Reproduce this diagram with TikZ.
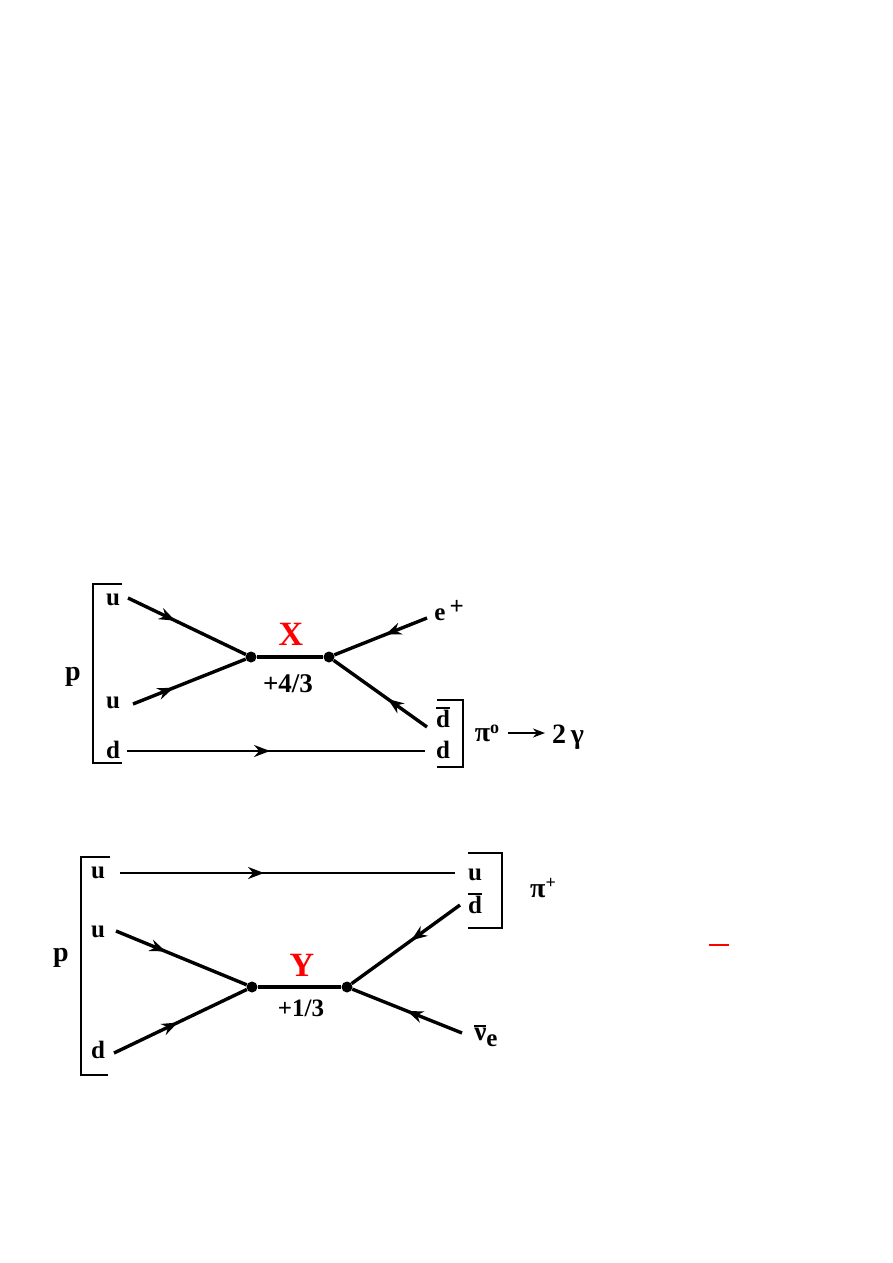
\documentclass[tikz,border=0pt]{standalone}
\usepackage{fontspec}
\setmainfont{Liberation Serif}
\usetikzlibrary{decorations.markings,arrows.meta}
\newcommand\barred[1]{\vbox{\hrule height 2pt\kern1.3pt\hbox{#1}}}
\tikzset{
  lbl/.style={font=\fontsize{25}{27}\selectfont\bfseries, inner sep=0pt},
  big/.style={font=\fontsize{28}{30}\selectfont\bfseries, inner sep=0pt},
  boson/.style={font=\fontsize{34}{36}\selectfont\bfseries, text=red, inner sep=0pt},
  charge/.style={font=\fontsize{27}{29}\selectfont\bfseries, inner sep=0pt},
  fline/.style={line width=3.4pt},
  qline/.style={line width=2.4pt},
  brk/.style={line width=2.8pt},
  vtx/.style={circle, fill, inner sep=0pt, minimum size=11pt},
  midarrow/.style={postaction={decorate}, decoration={markings, mark=at position #1 with {\arrow{Stealth[length=16pt,width=12pt]}}}},
}
\begin{document}
\begin{tikzpicture}[x=1pt,y=-1pt]
\path[use as bounding box, fill=white] (0,0) rectangle (893,1263);

% ---------- top diagram ----------
\draw[brk] (122,584) -- (93,584) -- (93,763) -- (122,763);
\draw[brk] (437,700) -- (463,700) -- (463,767) -- (437,767);

\node[big] (p1) at (73,677) {p};
\node[lbl] (u1) at (113,600) {u};
\node[lbl] (u2) at (113,703) {u};
\node[lbl] (d1) at (113,750) {d};
\node[boson] (X) at (291,634) {X};
\node[charge] (q1) at (288,684) {+4/3};
\node[lbl] (ep) at (449,611) {e\,\raisebox{6pt}{+}};
\node[lbl] (db1) at (443,717) {\barred{d}};
\node[lbl] (d2) at (443,750) {d};
\node[lbl, font=\fontsize{28}{30}\selectfont\bfseries] (pi0) at (487,733) {π\raisebox{8pt}{\fontsize{18}{18}\selectfont o}};
\node[lbl, font=\fontsize{28}{30}\selectfont\bfseries] (gg) at (568,737) {2\,γ};

\node[vtx] (v1) at (251,657) {};
\node[vtx] (v2) at (329,657) {};

\coordinate (a1) at (128,598);
\coordinate (a2) at (133,704);
\coordinate (a3) at (127,751);
\coordinate (a4) at (425,751);
\coordinate (a5) at (427,618);
\coordinate (a6) at (427,727);
\coordinate (pa) at (508,733);
\coordinate (pb) at (545,733);

\draw[fline, midarrow=0.40] (a1) -- (v1);
\draw[fline, midarrow=0.36] (a2) -- (v1);
\draw[fline] (v1) -- (v2);
\draw[fline, midarrow=0.45] (a5) -- (v2);
\draw[fline, midarrow=0.42] (a6) -- (v2);
\draw[qline, midarrow=0.48] (a3) -- (a4);
\draw[line width=2.2pt, -{Stealth[length=12pt,width=9pt]}] (pa) -- (pb);

% ---------- bottom diagram ----------
\draw[brk] (110,857) -- (81,857) -- (81,1075) -- (108,1075);
\draw[brk] (468,853) -- (502,853) -- (502,928) -- (468,928);

\node[big] (p2) at (61,958) {p};
\node[lbl] (u3) at (98,873) {u};
\node[lbl] (u4) at (98,932) {u};
\node[lbl] (d3) at (98,1050) {d};
\node[boson] (Y) at (302,965) {Y};
\node[charge, font=\fontsize{25}{27}\selectfont\bfseries] (q2) at (301,1008) {+1/3};
\node[lbl] (u5) at (475,875) {u};
\node[lbl] (db2) at (475,903) {\barred{d}};
\node[lbl, font=\fontsize{28}{30}\selectfont\bfseries] (pip) at (543,888) {π\raisebox{9pt}{\fontsize{18}{18}\selectfont +}};
\node[lbl, font=\fontsize{27}{29}\selectfont\bfseries] (nu) at (486,1036) {\barred{ν}\raisebox{-6pt}{\fontsize{25}{27}\selectfont e}};

\node[vtx] (w1) at (252,987) {};
\node[vtx] (w2) at (347,987) {};

\coordinate (b1) at (120,873);
\coordinate (b2) at (455,873);
\coordinate (b3) at (116,931);
\coordinate (b4) at (114,1053);
\coordinate (b5) at (460,905);
\coordinate (b6) at (462,1033);

\draw[qline, midarrow=0.43] (b1) -- (b2);
\draw[fline, midarrow=0.38] (b3) -- (w1);
\draw[fline, midarrow=0.48] (b4) -- (w1);
\draw[fline] (w1) -- (w2);
\draw[fline, midarrow=0.45] (b5) -- (w2);
\draw[fline, midarrow=0.50] (b6) -- (w2);

% stray red dash
\coordinate (r1) at (709,945);
\coordinate (r2) at (729,945);
\draw[red, line width=1.6pt] (r1) -- (r2);
\end{tikzpicture}
\end{document}
